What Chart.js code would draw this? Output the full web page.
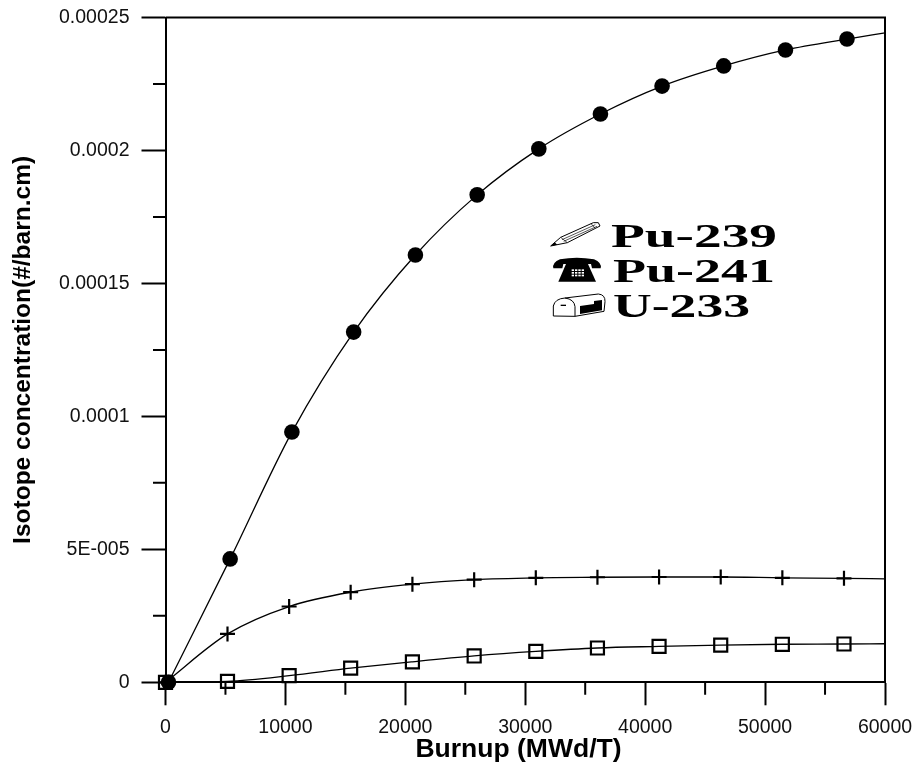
<!DOCTYPE html>
<html><head><meta charset="utf-8">
<style>html,body{margin:0;padding:0;background:#fff}canvas{display:block}</style>
<script src="https://cdn.jsdelivr.net/npm/chart.js@4"></script>
</head><body>
<canvas id="c" width="919" height="771"></canvas>
<script>
const pu239X=[250,5390,10540,15690,20840,25990,31130,36270,41410,46550,51700,56830,60000];
const pu239Y=[0,4.64e-5,9.41e-5,1.317e-4,1.607e-4,1.833e-4,2.006e-4,2.137e-4,2.242e-4,2.318e-4,2.378e-4,2.419e-4,2.442e-4];
const commonX=[0,5170,10310,15440,20590,25740,30880,36020,41160,46300,51440,56580,60000];
const pu241Y=[0,1.82e-5,2.85e-5,3.39e-5,3.69e-5,3.86e-5,3.93e-5,3.95e-5,3.96e-5,3.96e-5,3.93e-5,3.91e-5,3.89e-5];
const u233Y=[0,3.8e-7,2.5e-6,5.3e-6,7.7e-6,9.9e-6,1.16e-5,1.29e-5,1.35e-5,1.4e-5,1.43e-5,1.44e-5,1.45e-5];
const xTicks=[0,10000,20000,30000,40000,50000,60000];
const xMinorTicks=[5000,15000,25000,35000,45000,55000];
const yTicks=[0,5e-5,1e-4,1.5e-4,2e-4,2.5e-4];
const yTickLabels=["0","5E-005","0.0001","0.00015","0.0002","0.00025"];
const yMinorTicks=[2.5e-5,7.5e-5,1.25e-4,1.75e-4,2.25e-4];
const seriesNames=["Pu-239","Pu-241","U-233"];
const xTitle="Burnup (MWd/T)";
const yTitle="Isotope concentration(#/barn.cm)";

const pts=(xs,ys)=>xs.map((x,i)=>({x,y:ys[i]}));
const hideLast=r=>ctx=>ctx.dataIndex===12?0:r;

function pencil(c){
  c.fillStyle='#fff';c.strokeStyle='#000';c.lineWidth=3;c.lineJoin='round';
  c.beginPath();c.moveTo(62,138);c.lineTo(92,112);c.lineTo(190,68);c.lineTo(205,68);c.lineTo(210,78);c.lineTo(112,128);c.closePath();c.fill();c.stroke();
  c.lineWidth=2;
  c.beginPath();c.moveTo(96,119);c.lineTo(196,74);c.moveTo(101,124);c.lineTo(201,79);c.moveTo(92,112);c.lineTo(112,128);c.moveTo(183,71);c.lineTo(195,84);c.stroke();
  c.fillStyle='#000';c.beginPath();c.moveTo(62,138);c.lineTo(74,127);c.lineTo(82,134);c.closePath();c.fill();
}
function phone(c){
  c.fillStyle='#000';
  c.beginPath();c.moveTo(70,205);c.quadraticCurveTo(66,188,90,178);c.quadraticCurveTo(140,168,192,178);c.quadraticCurveTo(216,188,212,205);c.lineTo(186,205);c.lineTo(183,192);c.lineTo(100,192);c.lineTo(97,205);c.closePath();c.fill();
  c.beginPath();c.moveTo(108,192);c.lineTo(174,192);c.lineTo(198,245);c.lineTo(85,245);c.closePath();c.fill();
  c.fillStyle='#fff';
  for(let r=0;r<3;r++)for(let k=0;k<4;k++)c.fillRect(125+k*10,208+r*8,7,5);
}
function mailbox(c){
  c.fillStyle='#fff';c.strokeStyle='#000';c.lineWidth=3;c.lineJoin='round';
  c.beginPath();c.moveTo(70,348);c.lineTo(70,318);c.quadraticCurveTo(75,296,105,294);c.lineTo(205,282);c.quadraticCurveTo(226,284,225,305);c.lineTo(222,334);c.lineTo(135,349);c.closePath();c.fill();c.stroke();
  c.beginPath();c.moveTo(135,349);c.lineTo(135,320);c.quadraticCurveTo(133,298,105,294);c.stroke();
  c.lineWidth=4;c.beginPath();c.moveTo(92,316);c.lineTo(108,316);c.stroke();
  c.fillStyle='#000';c.beginPath();c.moveTo(150,318);c.lineTo(192,312);c.lineTo(192,303);c.lineTo(216,300);c.lineTo(216,331);c.lineTo(150,342);c.closePath();c.fill();
}
const legendIcons=[pencil,phone,mailbox];
const legendBaselines=[246.7,281.7,316.7];
const legendStarts=[611,613,613];
const legendWidths=[166,162,137];

const frame={id:'frame',
  afterDatasetsDraw(ch){
    const c=ch.ctx,a=ch.chartArea,sx=ch.scales.x,sy=ch.scales.y;
    c.save();c.strokeStyle='#000';c.lineWidth=2;
    c.beginPath();
    c.moveTo(a.left,a.top);c.lineTo(a.right,a.top);c.lineTo(a.right,a.bottom);
    xMinorTicks.forEach(v=>{const p=sx.getPixelForValue(v);c.moveTo(p,a.bottom);c.lineTo(p,a.bottom+12.5);});
    yMinorTicks.forEach(v=>{const p=sy.getPixelForValue(v);c.moveTo(a.left,p);c.lineTo(a.left-12.5,p);});
    c.stroke();
    legendIcons.forEach(f=>{c.save();c.translate(530,200);c.scale(1/3,1/3);f(c);c.restore();});
    c.fillStyle='#000';c.textBaseline='alphabetic';c.textAlign='left';
    c.font='bold 33px "Liberation Serif"';
    seriesNames.forEach((t,i)=>{const k=legendWidths[i]/c.measureText(t).width;c.save();c.translate(legendStarts[i],legendBaselines[i]);c.scale(k,1);c.fillText(t,0,0);c.restore();});
    c.font='bold 26.5px "Liberation Sans"';c.textAlign='center';
    c.fillText(xTitle,518.5,757);
    c.restore();
  }};

new Chart(document.getElementById('c'),{
  type:'scatter',
  data:{datasets:[
    {label:seriesNames[0],data:pts(pu239X,pu239Y),showLine:true,borderColor:'#000',borderWidth:1.3,cubicInterpolationMode:'monotone',
     pointStyle:'circle',pointRadius:hideLast(7.8),pointBackgroundColor:'#000',pointBorderColor:'#000',pointBorderWidth:0,clip:false},
    {label:seriesNames[1],data:pts(commonX,pu241Y),showLine:true,borderColor:'#000',borderWidth:1.3,cubicInterpolationMode:'monotone',
     pointStyle:'cross',pointRadius:hideLast(7.5),pointBorderColor:'#000',pointBorderWidth:2.2,clip:false},
    {label:seriesNames[2],data:pts(commonX,u233Y),showLine:true,borderColor:'#000',borderWidth:1.3,cubicInterpolationMode:'monotone',
     pointStyle:'rect',pointRadius:hideLast(9.2),pointBackgroundColor:'rgba(0,0,0,0)',pointBorderColor:'#000',pointBorderWidth:2.2,clip:false}
  ]},
  options:{
    responsive:false,animation:false,
    layout:{padding:{top:17.5,right:34,left:0,bottom:0}},
    plugins:{legend:{display:false},tooltip:{enabled:false}},
    scales:{
      x:{type:'linear',min:0,max:60000,
        afterBuildTicks:s=>{s.ticks=xTicks.map(v=>({value:v}));},
        afterFit:s=>{s.height=88.7;s.paddingLeft=0;s.paddingRight=0;},
        border:{display:true,color:'#000',width:2},
        grid:{drawOnChartArea:false,drawTicks:true,tickLength:23,tickWidth:2,tickColor:'#000'},
        ticks:{color:'#111',padding:11,maxRotation:0,autoSkip:false,font:{family:'"Liberation Sans"',size:19.5},callback:v=>String(v)}},
      y:{type:'linear',min:0,max:2.5e-4,
        afterBuildTicks:s=>{s.ticks=yTicks.map(v=>({value:v}));},
        afterFit:s=>{s.width=165.5;s.paddingTop=0;s.paddingBottom=0;},
        border:{display:true,color:'#000',width:2},
        grid:{drawOnChartArea:false,drawTicks:true,tickLength:24,tickWidth:2,tickColor:'#000'},
        ticks:{color:'#111',padding:12,autoSkip:false,font:{family:'"Liberation Sans"',size:19.5},
          callback:v=>{const i=yTicks.findIndex(t=>Math.abs(t-v)<1e-9);return i<0?'':yTickLabels[i];}},
        title:{display:true,text:yTitle,color:'#000',font:{family:'"Liberation Sans"',size:24.5,weight:'bold'},padding:{top:9,bottom:0}}}
    }
  },
  plugins:[frame]
});
</script>
</body></html>
